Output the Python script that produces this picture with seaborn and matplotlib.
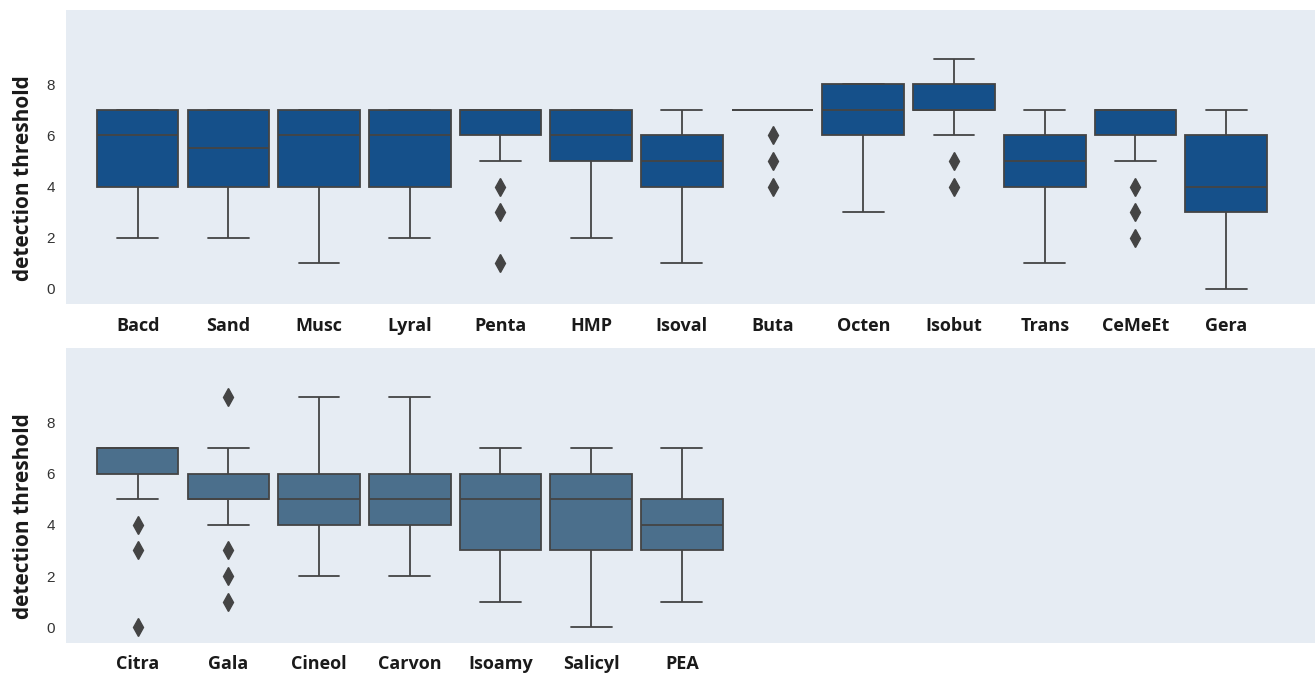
import numpy as np
import pandas as pd
import matplotlib
matplotlib.use("Agg")
import matplotlib.pyplot as plt
import seaborn as sns

# detection threshold levels 0..9, counts of subjects per level for each odorant
levels = [0, 1, 2, 3, 4, 5, 6, 7, 8, 9]

odor_top = ['Bacd', 'Sand', 'Musc', 'Lyral', 'Penta', 'HMP', 'Isoval',
            'Buta', 'Octen', 'Isobut', 'Trans', 'CeMeEt', 'Gera']
counts_top = [
    [0, 0, 1, 2, 3, 2, 4, 9, 0, 0],    # Bacd
    [0, 0, 1, 3, 4, 3, 4, 7, 0, 0],    # Sand
    [0, 1, 1, 2, 3, 2, 3, 9, 0, 0],    # Musc
    [0, 0, 2, 1, 3, 3, 3, 9, 0, 0],    # Lyral
    [0, 1, 0, 1, 1, 2, 5, 11, 0, 0],   # Penta
    [0, 0, 1, 1, 2, 3, 4, 10, 0, 0],   # HMP
    [0, 1, 1, 2, 4, 5, 4, 4, 0, 0],    # Isoval
    [0, 0, 0, 0, 1, 1, 1, 18, 0, 0],   # Buta
    [0, 0, 0, 1, 1, 2, 3, 5, 9, 0],    # Octen
    [0, 0, 0, 0, 1, 1, 2, 7, 8, 2],    # Isobut
    [0, 1, 1, 3, 3, 4, 5, 4, 0, 0],    # Trans
    [0, 0, 1, 1, 1, 2, 4, 12, 0, 0],   # CeMeEt
    [1, 1, 2, 4, 4, 3, 4, 2, 0, 0],    # Gera
]

odor_bot = ['Citra', 'Gala', 'Cineol', 'Carvon', 'Isoamy', 'Salicyl', 'PEA']
counts_bot = [
    [1, 0, 0, 1, 1, 2, 4, 12, 0, 0],   # Citra
    [0, 1, 1, 1, 2, 6, 7, 2, 0, 1],    # Gala
    [0, 0, 1, 2, 4, 5, 5, 2, 1, 1],    # Cineol
    [0, 0, 1, 1, 4, 6, 4, 3, 1, 1],    # Carvon
    [0, 1, 2, 3, 3, 4, 5, 3, 0, 0],    # Isoamy
    [1, 1, 1, 3, 3, 4, 5, 3, 0, 0],    # Salicyl
    [0, 1, 2, 4, 5, 5, 2, 2, 0, 0],    # PEA
]


def to_long(names, counts):
    rows = []
    for name, c in zip(names, counts):
        for v in np.repeat(levels, c):
            rows.append((name, v))
    return pd.DataFrame(rows, columns=['odorant', 'threshold'])


df_top = to_long(odor_top, counts_top)
df_bot = to_long(odor_bot, counts_bot)

sns.set_theme(style='white', rc={'axes.facecolor': '#e6ecf3'})
plt.rcParams['font.family'] = ['Open Sans', 'DejaVu Sans']

line_c = '#444444'
txt_c = '#1a1a1a'
fig = plt.figure(figsize=(13.15, 6.74), dpi=100)
ax1 = fig.add_axes([0.0502, 0.5485, 0.9498, 0.4367])
ax2 = fig.add_axes([0.0502, 0.0464, 0.9498, 0.4373])

for ax, d, order, col in [(ax1, df_top, odor_top, '#15508a'),
                          (ax2, df_bot, odor_bot, '#4b6f8c')]:
    sns.boxplot(data=d, x='odorant', y='threshold', order=order, color=col,
                saturation=1, width=0.9, linecolor=line_c, linewidth=1.3,
                flierprops=dict(marker='d', markerfacecolor=line_c,
                                markeredgecolor=line_c, markersize=9),
                ax=ax)
    ax.set_xlim(-0.79, 12.98)
    ax.set_ylim(-0.6, 10.9)
    ax.set_yticks([0, 2, 4, 6, 8])
    ax.set_xlabel('')
    ax.set_ylabel('detection threshold', fontsize=15, fontweight='bold',
                  color=txt_c)
    ax.yaxis.set_label_coords(-0.0255, 0.43)
    ax.tick_params(axis='x', length=0, pad=9, labelsize=13, labelcolor=txt_c)
    ax.tick_params(axis='y', length=0, pad=8, labelsize=11, labelcolor='#333333')
    for t in ax.get_xticklabels():
        t.set_fontweight('bold')
    for t in ax.get_yticklabels():
        t.set_family(['Liberation Sans', 'DejaVu Sans'])
    sns.despine(ax=ax, left=True, bottom=True)

fig.savefig('out.png', dpi=100)
